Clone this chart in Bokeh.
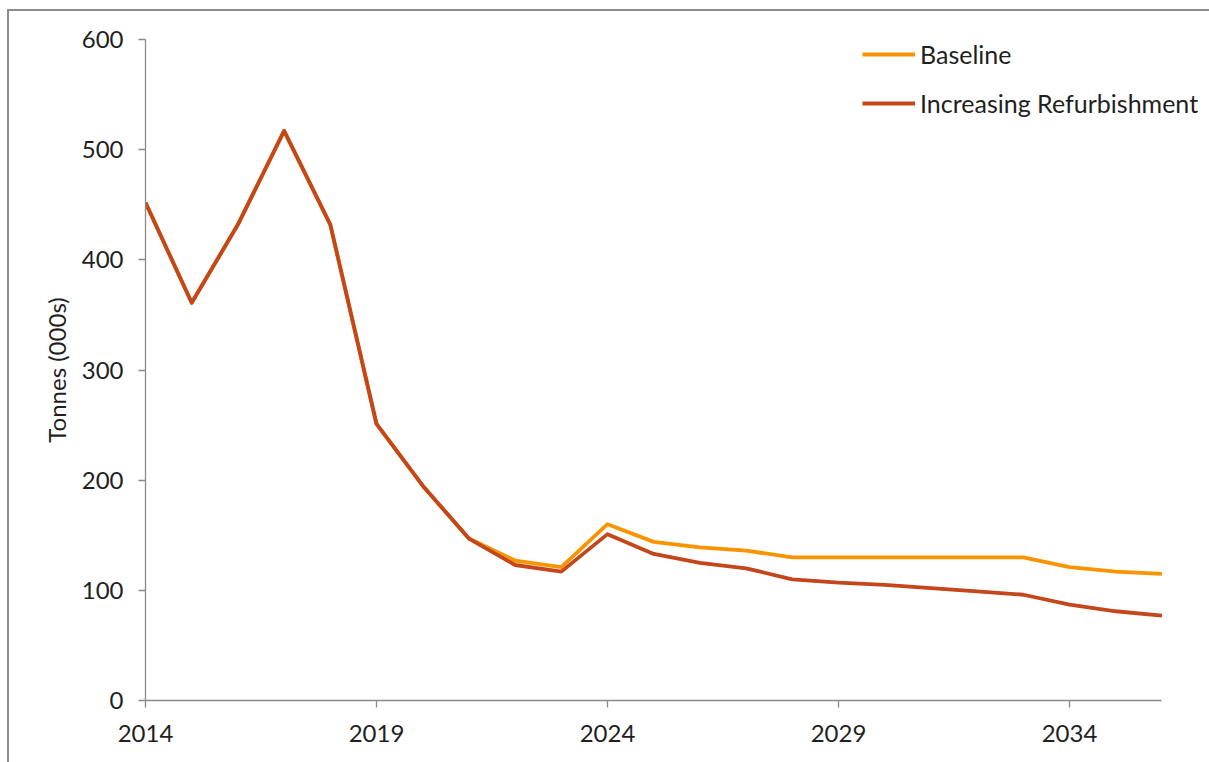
from bokeh.plotting import figure
from bokeh.models import FixedTicker, Range1d, Legend, LegendItem
from bokeh.embed import file_html
from bokeh.resources import INLINE

# Annual tonnage, thousands of tonnes
years = list(range(2014, 2037))
baseline = [452, 361, 432, 517, 432, 251, 195, 147, 127, 121, 160, 144,
            139, 136, 130, 130, 130, 130, 130, 130, 121, 117, 115]
refurbishment = [452, 361, 432, 517, 432, 251, 195, 147, 123, 117, 151, 133,
                 125, 120, 110, 107, 105, 102, 99, 96, 87, 81, 77]

x_ticks = [2014, 2019, 2024, 2029, 2034]
y_ticks = [0, 100, 200, 300, 400, 500, 600]

FONT = "Lato"
TEXT = "#1f1f1f"
AXIS = "#8a8a8a"
ORANGE = "#F79400"
RUST = "#C4461B"

# the frame runs past the last year so the legend has room on the right;
# the x axis itself stops at 2036
p = figure(width=1202, height=753, output_backend="svg", toolbar_location=None,
           x_range=Range1d(2014, 2037.03), y_range=Range1d(0, 600),
           min_border_left=138, min_border_right=0,
           min_border_top=30, min_border_bottom=62)
p.margin = (9, 0, 0, 7)
# grey rule along the left and top edges of the chart box
p.styles = {"box-shadow": "inset 2px 2px 0 0 #8c8c8c"}

p.outline_line_color = None
p.xgrid.visible = False
p.ygrid.visible = False
p.background_fill_color = "white"
p.border_fill_color = None

for ax in (p.xaxis, p.yaxis):
    ax.axis_line_color = AXIS
    ax.axis_line_width = 1.3
    ax.major_tick_line_color = AXIS
    ax.major_tick_line_width = 1.3
    ax.major_tick_in = 0
    ax.major_tick_out = 7
    ax.minor_tick_line_color = None
    ax.major_label_text_font = FONT
    ax.major_label_text_font_size = "24px"
    ax.major_label_text_color = TEXT

p.xaxis.ticker = FixedTicker(ticks=x_ticks)
p.xaxis.bounds = (2014, 2036)
p.yaxis.ticker = FixedTicker(ticks=y_ticks)
p.xaxis.major_label_standoff = 17
p.yaxis.major_label_standoff = 15

p.yaxis.axis_label = "Tonnes (000s)"
p.yaxis.axis_label_text_font = FONT
p.yaxis.axis_label_text_font_size = "24px"
p.yaxis.axis_label_text_font_style = "normal"
p.yaxis.axis_label_text_color = TEXT
p.yaxis.axis_label_standoff = 8

r_base = p.line(years, baseline, line_color=ORANGE, line_width=3.8,
                line_join="round")
r_refurb = p.line(years, refurbishment, line_color=RUST, line_width=3.8,
                  line_join="round")

legend = Legend(items=[LegendItem(label="Baseline", renderers=[r_base]),
                       LegendItem(label="Increasing Refurbishment", renderers=[r_refurb])],
                location=(717, 582), orientation="vertical",
                glyph_width=53, glyph_height=24, label_height=24,
                label_standoff=5, spacing=19, padding=0, margin=0,
                label_text_font=FONT, label_text_font_size="25px",
                label_text_color=TEXT,
                background_fill_alpha=0, border_line_alpha=0)
p.add_layout(legend, "center")

open("out.html", "w").write(file_html(p, INLINE))
